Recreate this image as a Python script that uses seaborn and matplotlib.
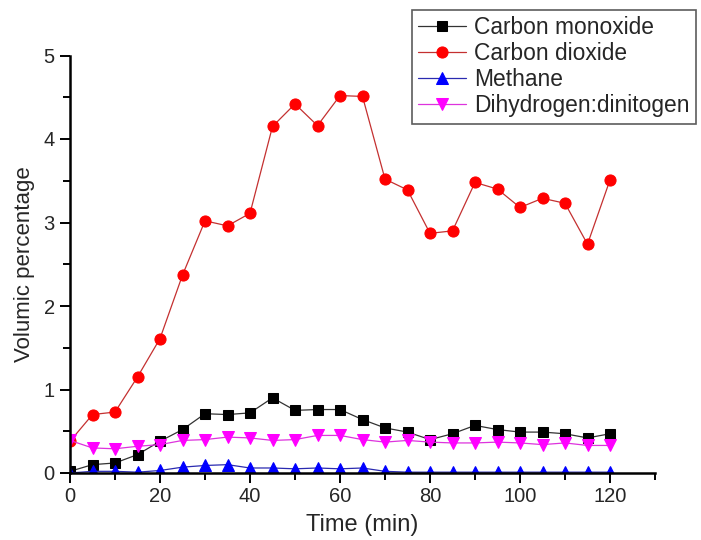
import matplotlib
matplotlib.use("Agg")
import matplotlib.pyplot as plt
import seaborn as sns
import pandas as pd
from matplotlib.ticker import MultipleLocator

time_min = [0, 5, 10, 15, 20, 25, 30, 35, 40, 45, 50, 55, 60,
            65, 70, 75, 80, 85, 90, 95, 100, 105, 110, 115, 120]
carbon_monoxide = [0.02, 0.10, 0.12, 0.22, 0.38, 0.52, 0.71, 0.70, 0.72, 0.90, 0.75, 0.76, 0.76,
                   0.64, 0.54, 0.49, 0.40, 0.47, 0.57, 0.52, 0.49, 0.49, 0.47, 0.42, 0.47]
carbon_dioxide = [0.38, 0.70, 0.73, 1.15, 1.61, 2.37, 3.02, 2.96, 3.11, 4.15, 4.42, 4.16, 4.52,
                  4.51, 3.52, 3.39, 2.87, 2.90, 3.48, 3.40, 3.18, 3.29, 3.23, 2.74, 3.51]
methane = [0.00, 0.02, 0.02, 0.01, 0.03, 0.07, 0.09, 0.10, 0.06, 0.06, 0.05, 0.06, 0.05,
           0.06, 0.02, 0.01, 0.01, 0.01, 0.01, 0.01, 0.01, 0.01, 0.01, 0.01, 0.01]
dihydrogen_dinitrogen = [0.39, 0.30, 0.29, 0.32, 0.34, 0.39, 0.40, 0.43, 0.42, 0.39, 0.40, 0.45, 0.45,
                         0.40, 0.37, 0.39, 0.37, 0.36, 0.36, 0.37, 0.36, 0.34, 0.36, 0.33, 0.33]

series_names = ["Carbon monoxide", "Carbon dioxide", "Methane", "Dihydrogen:dinitogen"]
series_values = [carbon_monoxide, carbon_dioxide, methane, dihydrogen_dinitrogen]

sns.set_style("ticks")
plt.rcParams['font.family'] = ['Liberation Sans', 'DejaVu Sans']

fig = plt.figure(figsize=(7.01, 5.40), dpi=100)
ax = fig.add_axes([70 / 701, 1 - 473 / 540, 585 / 701, 417.5 / 540])

styles = [
    dict(marker="s", line="#333333", face="#000000", ms=7.2),
    dict(marker="o", line="#c43030", face="#ff0000", ms=8.0),
    dict(marker="^", line="#2a2ab0", face="#0000ff", ms=8.5),
    dict(marker="v", line="#dd33dd", face="#ff00ff", ms=8.5),
]

for name, vals, st in zip(series_names, series_values, styles):
    df = pd.DataFrame({"Time (min)": time_min, "Volumic percentage": vals})
    sns.lineplot(data=df, x="Time (min)", y="Volumic percentage", ax=ax,
                 color=st["line"], linewidth=0.9, marker=st["marker"],
                 markersize=st["ms"], markerfacecolor=st["face"],
                 markeredgecolor=st["face"], label=name)

ax.set_xlim(0, 130)
ax.set_ylim(0, 5)
ax.xaxis.set_major_locator(MultipleLocator(20))
ax.xaxis.set_minor_locator(MultipleLocator(10))
ax.yaxis.set_major_locator(MultipleLocator(1))
ax.yaxis.set_minor_locator(MultipleLocator(0.5))

for side in ["top", "right"]:
    ax.spines[side].set_visible(False)
for side in ["left", "bottom"]:
    ax.spines[side].set_linewidth(1.8)
    ax.spines[side].set_color("black")

ax.tick_params(which="major", length=7, width=1.4, color="black",
               labelsize=14.5, pad=3, direction="out")
ax.tick_params(which="minor", length=5, width=1.4, color="black", direction="out")
ax.tick_params(axis="y", which="major", pad=4)

ax.set_xlabel("Time (min)", fontsize=17, va="center")
ax.set_ylabel("Volumic percentage", fontsize=16, va="center")
ax.xaxis.set_label_coords(0.5, (473 - 525) / 417.5)
ax.yaxis.set_label_coords((25 - 70) / 585, 0.5)

ax.get_legend().remove()
handles, labels = ax.get_legend_handles_labels()
leg = fig.legend(handles, labels, loc="upper left",
                 bbox_to_anchor=(412 / 701, 1 - 10 / 540),
                 bbox_transform=fig.transFigure,
                 fontsize=16.4, frameon=True, fancybox=False, shadow=False,
                 borderpad=0.28, borderaxespad=0, handlelength=2.1,
                 handletextpad=0.33, labelspacing=0.13)
leg.get_frame().set_edgecolor("#333333")
leg.get_frame().set_linewidth(1.2)

fig.savefig("out.png", dpi=100)
